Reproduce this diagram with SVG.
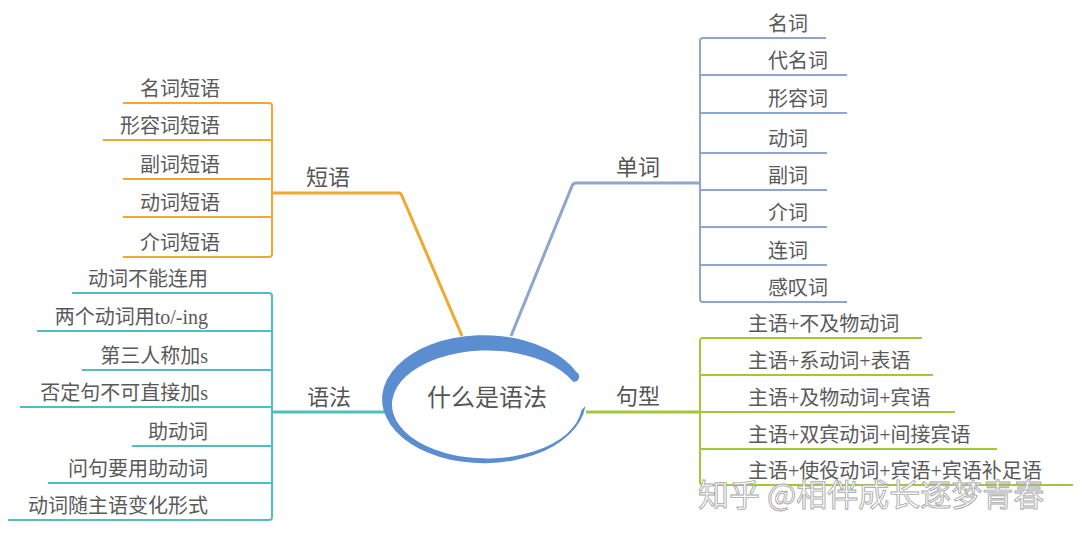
<svg xmlns="http://www.w3.org/2000/svg" width="1080" height="538" viewBox="0 0 1080 538">
<style>
.t{font-family:"Liberation Serif","Noto Sans CJK SC",serif;font-size:20px;fill:#5a5a5a;}
.lb{font-family:"Liberation Serif","Noto Sans CJK SC",serif;font-size:22px;fill:#555;}
.c{font-family:"Liberation Serif","Noto Sans CJK SC",serif;font-size:24px;fill:#555;}
.e{text-anchor:end;}
.w{font-family:"Noto Sans CJK SC",sans-serif;font-size:31px;fill:#fff;stroke:#a8a8a8;stroke-width:0.9;}
.br{fill:none;stroke-width:3;stroke-linejoin:round;}
.it{fill:none;stroke-width:2;stroke-linejoin:round;}
.or{stroke:#f0a830;}
.tl{stroke:#4fbfc2;}
.bl{stroke:#8ea5cd;}
.gr{stroke:#a2c83a;}
</style>
<rect width="1080" height="538" fill="#fff"/>
<g id="connectors">
  <path class="br or" d="M272 193 H399 Q401 193 402 196 L462 336"/>
  <path class="br bl" d="M700 183 H576 Q573 183 572 186 L511 336"/>
  <path class="br tl" d="M272 412 H386"/>
  <path class="br gr" d="M586 412 H700"/>
  <path class="it or" d="M123 103 H269 Q272 103 272 106 V254 Q272 257 269 257 H123 M103 140 H272 M123 179 H272 M123 217 H272"/>
  <path class="it tl" d="M72 293 H269 Q272 293 272 296 V517 Q272 520 269 520 H8 M37 331 H272 M82 370 H272 M20 407 H272 M132 446 H272 M48 483 H272"/>
  <path class="it bl" d="M826 38 H703 Q700 38 700 41 V299 Q700 302 703 302 H847 M847 75 H700 M847 113 H700 M827 153 H700 M827 190 H700 M827 227 H700 M827 265 H700"/>
  <path class="it gr" d="M922 338 H703 Q700 338 700 341 V482 Q700 485 703 485 H1073 M933 375 H700 M955 412 H700 M997 449 H700"/>
</g>
<g id="center">
  <path fill="#5b8ed0" d="M576.4 372 A102 64 0 1 0 585.5 406 L581.5 410 A95 54 0 1 1 573.1 381.7 A5.2 5.2 0 0 0 576.4 372 Z"/>
  <text class="c" x="487" y="406" text-anchor="middle">什么是语法</text>
</g>
<g id="duanyu">
  <text class="lb" x="328" y="185" text-anchor="middle">短语</text>
</g>
<g id="duanyu-items">
  <text class="t e" x="220" y="96">名词短语</text>
  <text class="t e" x="220" y="133">形容词短语</text>
  <text class="t e" x="220" y="172">副词短语</text>
  <text class="t e" x="220" y="210">动词短语</text>
  <text class="t e" x="220" y="250">介词短语</text>
</g>
<g id="yufa">
  <text class="lb" x="329" y="405" text-anchor="middle">语法</text>
</g>
<g id="yufa-items">
  <text class="t e" x="208" y="286">动词不能连用</text>
  <text class="t e" x="208" y="324">两个动词用to/-ing</text>
  <text class="t e" x="208" y="363">第三人称加s</text>
  <text class="t e" x="208" y="400">否定句不可直接加s</text>
  <text class="t e" x="208" y="439">助动词</text>
  <text class="t e" x="208" y="476">问句要用助动词</text>
  <text class="t e" x="208" y="513">动词随主语变化形式</text>
</g>
<g id="danci">
  <text class="lb" x="638" y="175" text-anchor="middle">单词</text>
</g>
<g id="danci-items">
  <text class="t" x="768" y="31">名词</text>
  <text class="t" x="768" y="68">代名词</text>
  <text class="t" x="768" y="106">形容词</text>
  <text class="t" x="768" y="146">动词</text>
  <text class="t" x="768" y="183">副词</text>
  <text class="t" x="768" y="220">介词</text>
  <text class="t" x="768" y="258">连词</text>
  <text class="t" x="768" y="295">感叹词</text>
</g>
<g id="juxing">
  <text class="lb" x="638" y="404" text-anchor="middle">句型</text>
</g>
<g id="juxing-items">
  <text class="t" x="748" y="331">主语+不及物动词</text>
  <text class="t" x="748" y="368">主语+系动词+表语</text>
  <text class="t" x="748" y="405">主语+及物动词+宾语</text>
  <text class="t" x="748" y="442">主语+双宾动词+间接宾语</text>
  <text class="t" x="748" y="478">主语+使役动词+宾语+宾语补足语</text>
</g>
<g id="watermark">
  <text class="w" x="698" y="506">知乎 @相伴成长逐梦青春</text>
</g>
</svg>
